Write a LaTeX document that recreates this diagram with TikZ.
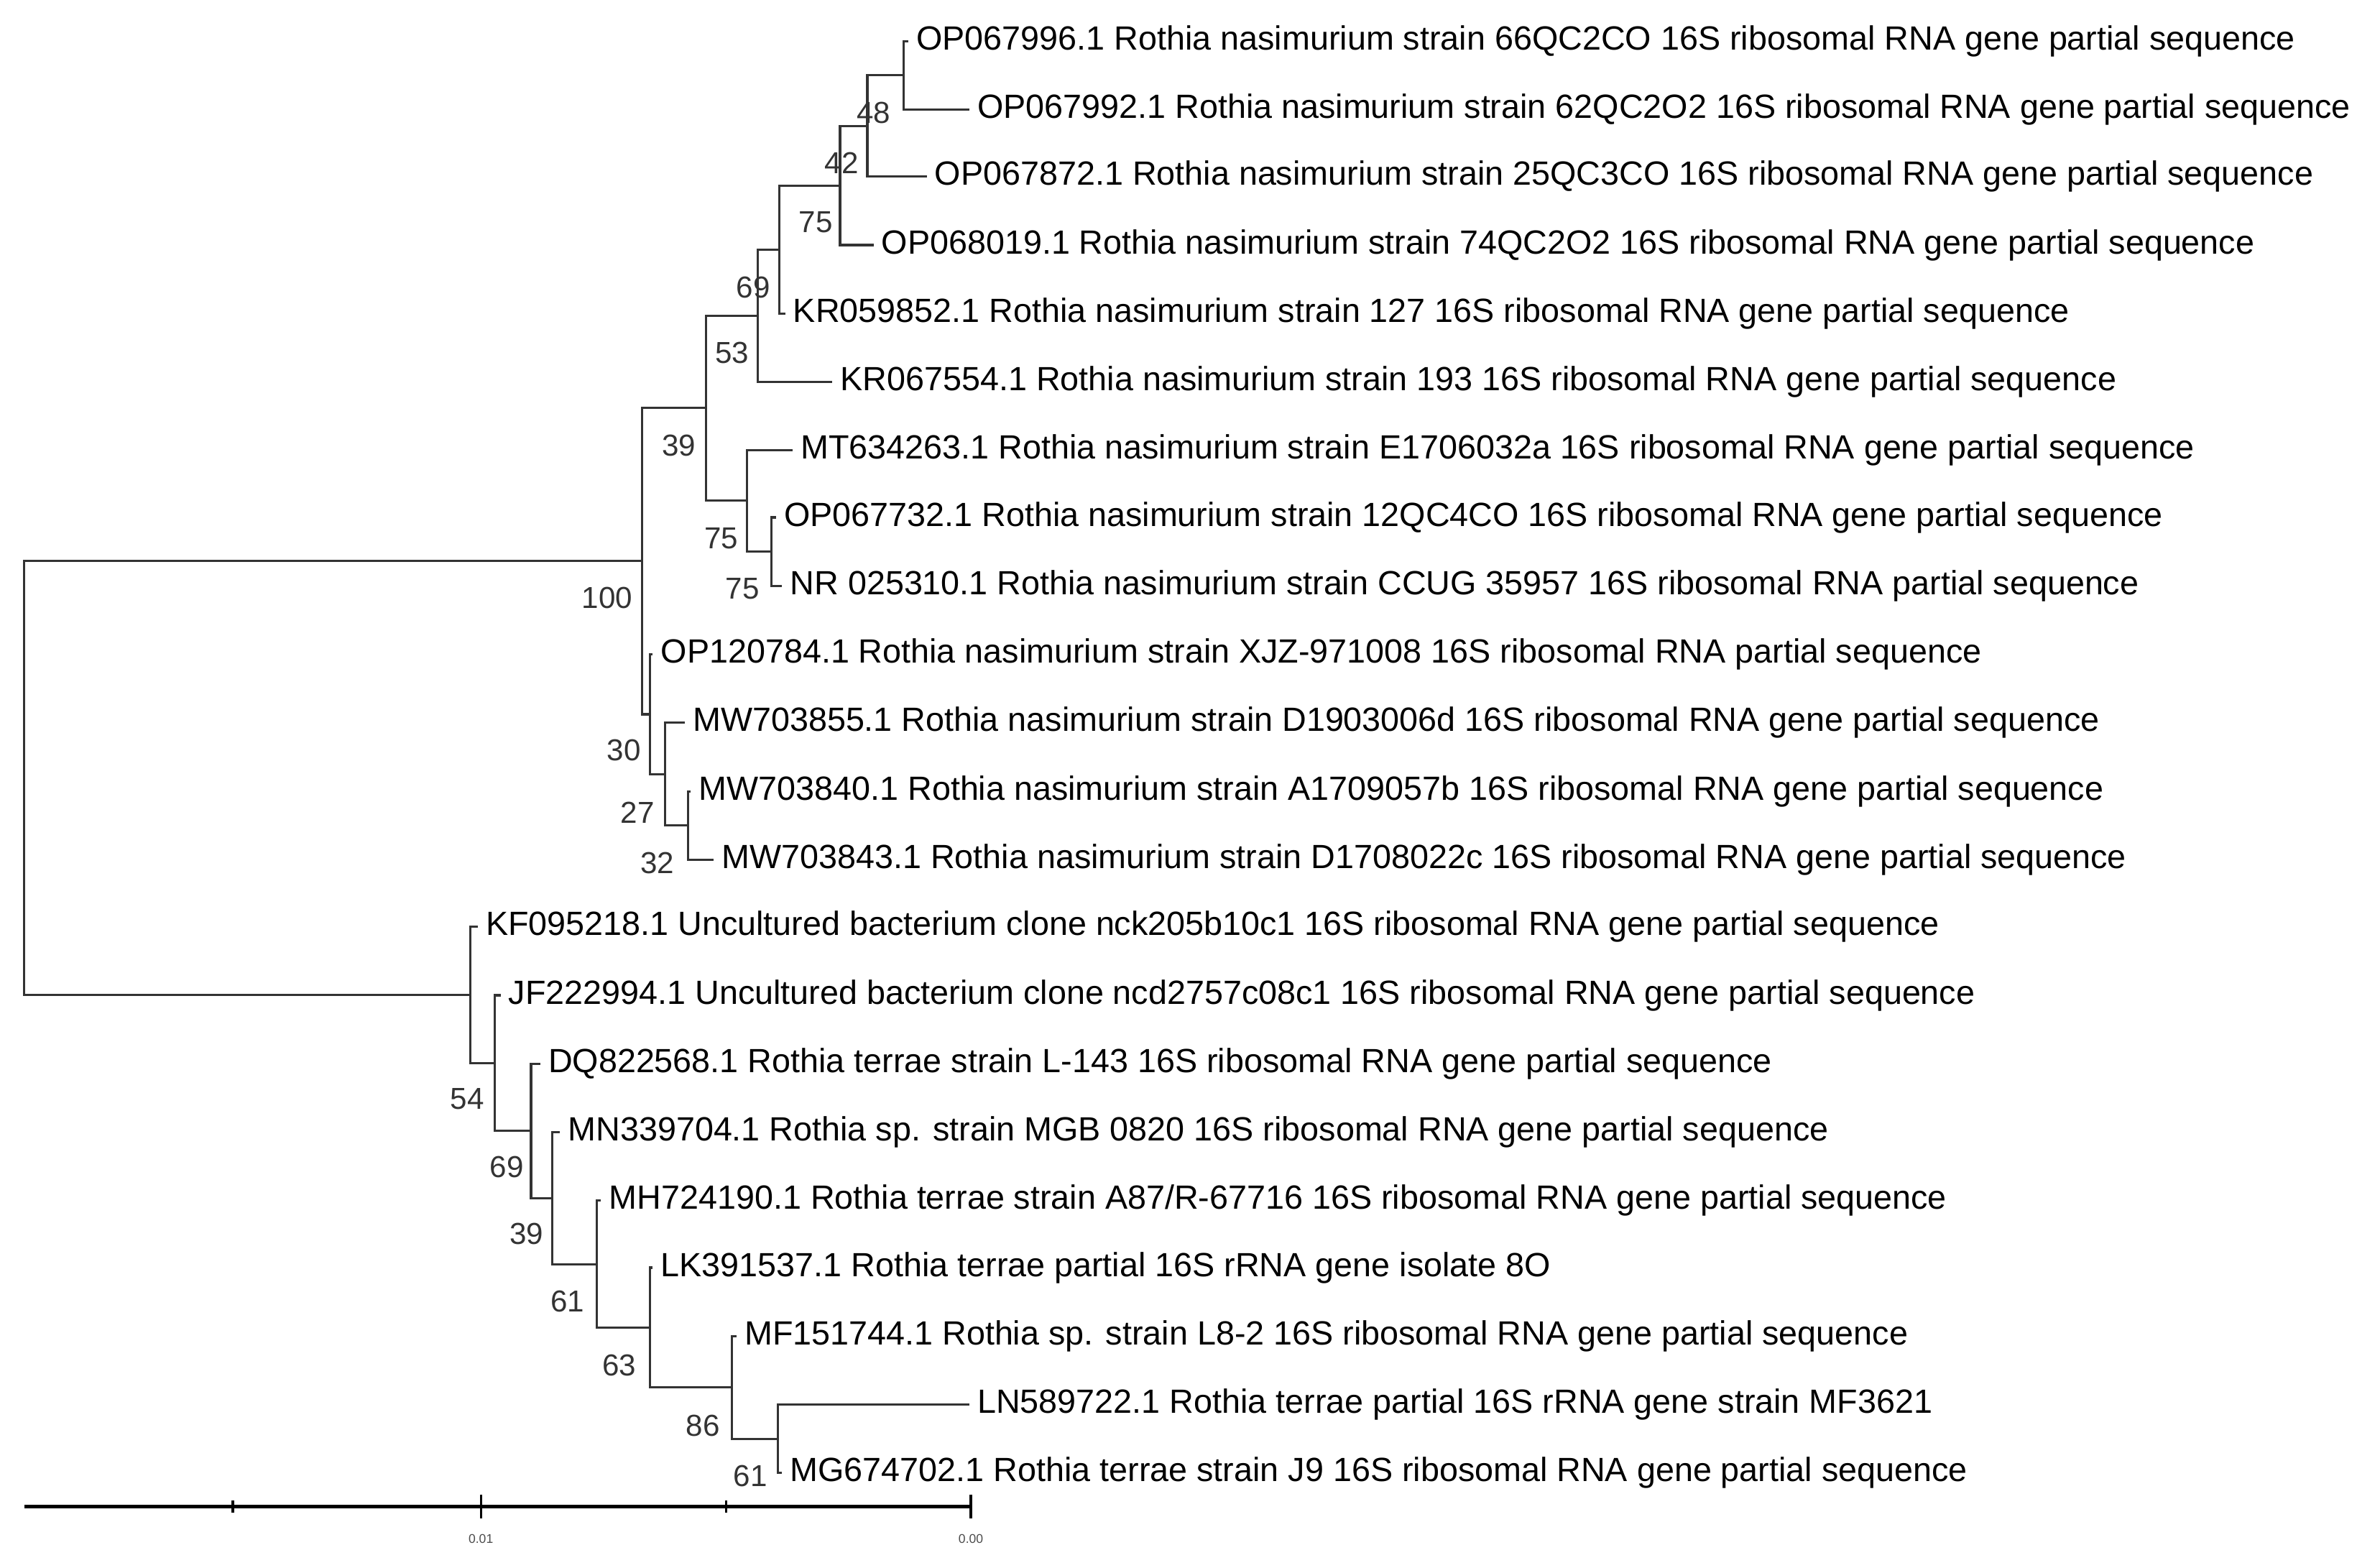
\documentclass[tikz,border=0pt]{standalone}
\usepackage{fontspec}
\setmainfont{Liberation Sans}
\begin{document}
\begin{tikzpicture}[x=0.0212cm,y=-0.0212cm,
  br/.style={draw=black!80,line width=0.9pt},
  lf/.style={anchor=west,inner xsep=3pt,inner ysep=0pt,font=\fontsize{13.3}{15}\selectfont},
  bs/.style={font=\fontsize{12}{14}\selectfont,text=black!80,inner sep=0pt},
  tk/.style={font=\fontsize{5}{6}\selectfont,text=black!70,inner sep=0pt}]
\useasboundingbox[fill=white] (0,0) rectangle (1564,1030);
% leaves
\node[lf] (l1) at (597,27) {OP067996.1 Rothia nasimurium strain 66QC2CO 16S ribosomal RNA gene partial sequence};
\node[lf] (l2) at (637,72) {OP067992.1 Rothia nasimurium strain 62QC2O2 16S ribosomal RNA gene partial sequence};
\node[lf] (l3) at (609,116) {OP067872.1 Rothia nasimurium strain 25QC3CO 16S ribosomal RNA gene partial sequence};
\node[lf] (l4) at (574,161) {OP068019.1 Rothia nasimurium strain 74QC2O2 16S ribosomal RNA gene partial sequence};
\node[lf] (l5) at (516,206) {KR059852.1 Rothia nasimurium strain 127 16S ribosomal RNA gene partial sequence};
\node[lf] (l6) at (547,251) {KR067554.1 Rothia nasimurium strain 193 16S ribosomal RNA gene partial sequence};
\node[lf] (l7) at (521,296) {MT634263.1 Rothia nasimurium strain E1706032a 16S ribosomal RNA gene partial sequence};
\node[lf] (l8) at (510,340) {OP067732.1 Rothia nasimurium strain 12QC4CO 16S ribosomal RNA gene partial sequence};
\node[lf] (l9) at (514,385) {NR 025310.1 Rothia nasimurium strain CCUG 35957 16S ribosomal RNA partial sequence};
\node[lf] (l10) at (429,430) {OP120784.1 Rothia nasimurium strain XJZ-971008 16S ribosomal RNA partial sequence};
\node[lf] (l11) at (450,475) {MW703855.1 Rothia nasimurium strain D1903006d 16S ribosomal RNA gene partial sequence};
\node[lf] (l12) at (454,520) {MW703840.1 Rothia nasimurium strain A1709057b 16S ribosomal RNA gene partial sequence};
\node[lf] (l13) at (469,565) {MW703843.1 Rothia nasimurium strain D1708022c 16S ribosomal RNA gene partial sequence};
\node[lf] (l14) at (314,609) {KF095218.1 Uncultured bacterium clone nck205b10c1 16S ribosomal RNA gene partial sequence};
\node[lf] (l15) at (329,654) {JF222994.1 Uncultured bacterium clone ncd2757c08c1 16S ribosomal RNA gene partial sequence};
\node[lf] (l16) at (355,699) {DQ822568.1 Rothia terrae strain L-143 16S ribosomal RNA gene partial sequence};
\node[lf] (l17) at (368,744) {MN339704.1 Rothia sp. strain MGB 0820 16S ribosomal RNA gene partial sequence};
\node[lf] (l18) at (395,789) {MH724190.1 Rothia terrae strain A87/R-67716 16S ribosomal RNA gene partial sequence};
\node[lf] (l19) at (429,833) {LK391537.1 Rothia terrae partial 16S rRNA gene isolate 8O};
\node[lf] (l20) at (484,878) {MF151744.1 Rothia sp. strain L8-2 16S ribosomal RNA gene partial sequence};
\node[lf] (l21) at (637,923) {LN589722.1 Rothia terrae partial 16S rRNA gene strain MF3621};
\node[lf] (l22) at (514,968) {MG674702.1 Rothia terrae strain J9 16S ribosomal RNA gene partial sequence};
% internal nodes
\coordinate (A) at (594,49.5);
\coordinate (B) at (570,82.75);
\coordinate (C) at (552,121.9);
\coordinate (D) at (512,164);
\coordinate (E) at (498,207.5);
\coordinate (H) at (507,362.5);
\coordinate (G) at (491,329);
\coordinate (F) at (464,268);
\coordinate (L) at (452,542.5);
\coordinate (K) at (437,508.75);
\coordinate (J) at (427,469.4);
\coordinate (I) at (422,368.7);
\coordinate (N8) at (511,945.5);
\coordinate (N7) at (481,911.75);
\coordinate (N6) at (427,872.4);
\coordinate (N5) at (392,830.7);
\coordinate (N4) at (363,787.3);
\coordinate (N3) at (349,743.2);
\coordinate (N2) at (325,698.6);
\coordinate (N1) at (309,653.8);
\coordinate (R) at (16,511.25);
% branches
\draw[br] (A) |- (l1.west); \draw[br] (A) |- (l2.west);
\draw[br] (B) |- (A); \draw[br] (B) |- (l3.west);
\draw[br] (C) |- (B); \draw[br] (C) |- (l4.west);
\draw[br] (D) |- (C); \draw[br] (D) |- (l5.west);
\draw[br] (E) |- (D); \draw[br] (E) |- (l6.west);
\draw[br] (H) |- (l8.west); \draw[br] (H) |- (l9.west);
\draw[br] (G) |- (l7.west); \draw[br] (G) |- (H);
\draw[br] (F) |- (E); \draw[br] (F) |- (G);
\draw[br] (L) |- (l12.west); \draw[br] (L) |- (l13.west);
\draw[br] (K) |- (l11.west); \draw[br] (K) |- (L);
\draw[br] (J) |- (l10.west); \draw[br] (J) |- (K);
\draw[br] (I) |- (F); \draw[br] (I) |- (J);
\draw[br] (N8) |- (l21.west); \draw[br] (N8) |- (l22.west);
\draw[br] (N7) |- (l20.west); \draw[br] (N7) |- (N8);
\draw[br] (N6) |- (l19.west); \draw[br] (N6) |- (N7);
\draw[br] (N5) |- (l18.west); \draw[br] (N5) |- (N6);
\draw[br] (N4) |- (l17.west); \draw[br] (N4) |- (N5);
\draw[br] (N3) |- (l16.west); \draw[br] (N3) |- (N4);
\draw[br] (N2) |- (l15.west); \draw[br] (N2) |- (N3);
\draw[br] (N1) |- (l14.west); \draw[br] (N1) |- (N2);
\draw[br] (R) |- (I); \draw[br] (R) |- (N1);
% bootstrap values
\node[bs] (b1) at (574,74) {48};
\node[bs] (b2) at (553,107) {42};
\node[bs] (b3) at (536,146) {75};
\node[bs] (b4) at (495,189) {69};
\node[bs] (b5) at (481,232) {53};
\node[bs] (b6) at (446,293) {39};
\node[bs] (b7) at (474,354) {75};
\node[bs] (b8) at (488,387) {75};
\node[bs] (b9) at (399,393) {100};
\node[bs] (b10) at (410,493) {30};
\node[bs] (b11) at (419,534) {27};
\node[bs] (b12) at (432,567) {32};
\node[bs] (b13) at (307,722) {54};
\node[bs] (b14) at (333,767) {69};
\node[bs] (b15) at (346,811) {39};
\node[bs] (b16) at (373,855) {61};
\node[bs] (b17) at (407,897) {63};
\node[bs] (b18) at (462,937) {86};
\node[bs] (b19) at (493,970) {61};
% scale bar
\coordinate (s0) at (16,990);
\coordinate (s4) at (638,990);
\draw[line width=1.3pt] (s0) -- (s4);
\draw[line width=0.9pt] (153,986) -- (153,994);
\draw[line width=0.9pt] (477,986) -- (477,994);
\draw[line width=0.9pt] (316,982) -- (316,998);
\draw[line width=0.9pt] (638,982) -- (638,998);
\node[tk] (t1) at (316,1011) {0.01};
\node[tk] (t2) at (638,1011) {0.00};
\end{tikzpicture}
\end{document}
